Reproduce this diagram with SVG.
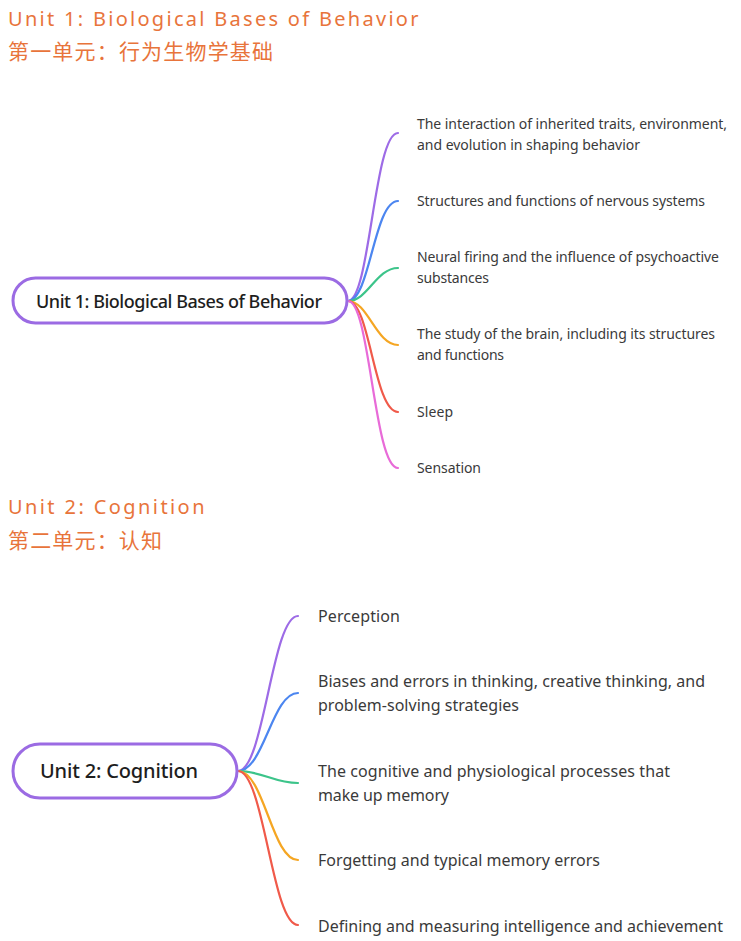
<svg xmlns="http://www.w3.org/2000/svg" width="741" height="941" viewBox="0 0 741 941">
<style>
.h{font-family:"Noto Sans","Liberation Sans",sans-serif;font-size:20px;fill:#E8743B;letter-spacing:1.5px}
.hc{font-family:"Noto Sans CJK SC","Noto Sans",sans-serif;font-size:21px;fill:#E8743B}
.pill{fill:#fff;stroke:#9B6BE3;stroke-width:3}
.nt{font-family:"Noto Sans","Liberation Sans",sans-serif;font-weight:500;fill:#1e1e1e}
.t1{font-family:"Noto Sans","Liberation Sans",sans-serif;font-size:14px;fill:#3a3a3a}
.t2{font-family:"Noto Sans","Liberation Sans",sans-serif;font-size:16px;fill:#3a3a3a}
.c{fill:none;stroke-width:2.2;stroke-linecap:round}
</style>
<rect width="741" height="941" fill="#fff"/>
<g id="header1">
<text class="h" x="8" y="26" textLength="412">Unit 1: Biological Bases of Behavior</text>
<text class="hc" x="8" y="59" textLength="265">第一单元：行为生物学基础</text>
</g>
<g id="header2">
<text class="h" x="8" y="514" textLength="198">Unit 2: Cognition</text>
<text class="hc" x="8" y="548" textLength="154">第二单元：认知</text>
</g>
<g id="connectors">
<path class="c" stroke="#9D6BE6" d="M348 301 C370 301 374 133 398 133"/>
<path class="c" stroke="#4C86F0" d="M348 301 C370 301 374 201 398 201"/>
<path class="c" stroke="#3CC48A" d="M348 301 C368 301 376 268 398 268"/>
<path class="c" stroke="#F5A623" d="M348 301 C368 301 376 345 398 345"/>
<path class="c" stroke="#F05A4A" d="M348 301 C370 301 374 412 398 412"/>
<path class="c" stroke="#E86BD8" d="M348 301 C370 301 374 468 398 468"/>
<path class="c" stroke="#9D6BE6" d="M238 771 C264 771 272 616 298 616"/>
<path class="c" stroke="#4C86F0" d="M238 771 C264 771 272 693 298 693"/>
<path class="c" stroke="#3CC48A" d="M238 771 C262 771 274 783 298 783"/>
<path class="c" stroke="#F5A623" d="M238 771 C264 771 272 860 298 860"/>
<path class="c" stroke="#F05A4A" d="M238 771 C264 771 272 925 298 925"/>
</g>
<g id="node-unit1">
<rect class="pill" x="13" y="278" width="334" height="45" rx="22.5"/>
<text class="nt" x="36" y="308" font-size="18" textLength="286">Unit 1: Biological Bases of Behavior</text>
</g>
<g id="n1-a"><text class="t1" x="417" y="129" textLength="310">The interaction of inherited traits, environment,</text><text class="t1" x="417" y="150" textLength="223">and evolution in shaping behavior</text></g>
<g id="n1-b"><text class="t1" x="417" y="206" textLength="288">Structures and functions of nervous systems</text></g>
<g id="n1-c"><text class="t1" x="417" y="262" textLength="302">Neural firing and the influence of psychoactive</text><text class="t1" x="417" y="283" textLength="72">substances</text></g>
<g id="n1-d"><text class="t1" x="417" y="339" textLength="298">The study of the brain, including its structures</text><text class="t1" x="417" y="360" textLength="87">and functions</text></g>
<g id="n1-e"><text class="t1" x="417" y="417" textLength="36">Sleep</text></g>
<g id="n1-f"><text class="t1" x="417" y="473" textLength="64">Sensation</text></g>
<g id="node-unit2">
<rect class="pill" x="13" y="744" width="224" height="54" rx="27"/>
<text class="nt" x="40" y="778" font-size="20" textLength="158">Unit 2: Cognition</text>
</g>
<g id="n2-a"><text class="t2" x="318" y="622" textLength="82">Perception</text></g>
<g id="n2-b"><text class="t2" x="318" y="687" textLength="387">Biases and errors in thinking, creative thinking, and</text><text class="t2" x="318" y="711" textLength="201">problem-solving strategies</text></g>
<g id="n2-c"><text class="t2" x="318" y="777" textLength="352">The cognitive and physiological processes that</text><text class="t2" x="318" y="801" textLength="131">make up memory</text></g>
<g id="n2-d"><text class="t2" x="318" y="866" textLength="282">Forgetting and typical memory errors</text></g>
<g id="n2-e"><text class="t2" x="318" y="932" textLength="405">Defining and measuring intelligence and achievement</text></g>
</svg>
